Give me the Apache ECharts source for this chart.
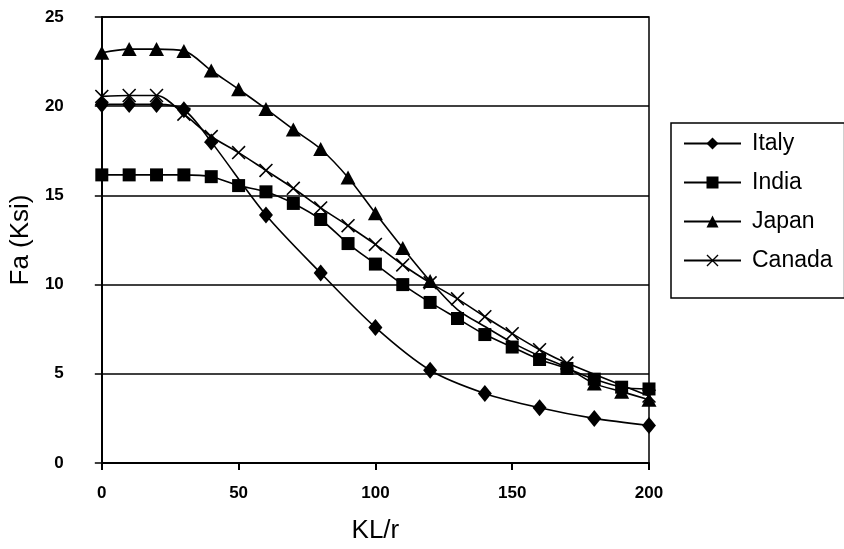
<!DOCTYPE html>
<html>
<head>
<meta charset="utf-8">
<script src="https://cdn.jsdelivr.net/npm/echarts@6/dist/echarts.min.js"></script>
<style>html,body{margin:0;padding:0;background:#fff}#c{width:844px;height:549px}</style>
</head>
<body>
<div id="c"></div>
<script>
var seriesNames = ['Italy', 'India', 'Japan', 'Canada'];
var xTicks = [0, 50, 100, 150, 200];
var yTicks = [0, 5, 10, 15, 20, 25];

var italyX = [0, 10, 20, 30, 40, 60, 80, 100, 120, 140, 160, 180, 200];
var italyY = [20.1, 20.1, 20.1, 19.8, 18.0, 13.9, 10.65, 7.6, 5.2, 3.9, 3.1, 2.5, 2.1];

var indiaX = [0, 10, 20, 30, 40, 50, 60, 70, 80, 90, 100, 110, 120, 130, 140, 150, 160, 170, 180, 190, 200];
var indiaY = [16.15, 16.15, 16.15, 16.15, 16.05, 15.55, 15.2, 14.55, 13.65, 12.3, 11.15, 10.0, 9.0, 8.1, 7.2, 6.5, 5.8, 5.3, 4.7, 4.25, 4.15];

var japanX = [0, 10, 20, 30, 40, 50, 60, 70, 80, 90, 100, 110, 120, 130, 140, 150, 160, 170, 180, 190, 200];
var japanY = [23.0, 23.2, 23.2, 23.1, 22.0, 20.95, 19.85, 18.7, 17.6, 16.0, 14.0, 12.05, 10.2, 8.6, 7.65, 6.75, 6.0, 5.35, 4.45, 4.0, 3.55];
// points whose triangle marker is not visible in the picture (hidden under other marks)
var japanHiddenX = [130, 140, 150, 160, 170];

var canadaX = [0, 10, 20, 30, 40, 50, 60, 70, 80, 90, 100, 110, 120, 130, 140, 150, 160, 170, 200];
var canadaY = [20.55, 20.6, 20.6, 19.55, 18.3, 17.4, 16.4, 15.4, 14.3, 13.3, 12.25, 11.1, 10.1, 9.2, 8.2, 7.25, 6.35, 5.6, 3.75];

function pairs(xs, ys, hidden) {
  return xs.map(function (x, i) {
    if (hidden && hidden.indexOf(x) >= 0) return {value: [x, ys[i]], symbol: 'none'};
    return [x, ys[i]];
  });
}

var NARROW = '"Liberation Sans Narrow", "Arial Narrow", "Liberation Sans", Arial, sans-serif';
var SANS = '"Liberation Sans", Arial, sans-serif';
var xMark = 'path://M0,1.6 L1.6,0 L10,8.4 L18.4,0 L20,1.6 L11.6,10 L20,18.4 L18.4,20 L10,11.6 L1.6,20 L0,18.4 L8.4,10 Z';

var symbols = ['diamond', 'rect', 'triangle', xMark];
var sizes = [[14, 17], 13, [15, 14], 14];
var datas = [pairs(italyX, italyY), pairs(indiaX, indiaY), pairs(japanX, japanY, japanHiddenX), pairs(canadaX, canadaY)];

var chart = echarts.init(document.getElementById('c'), null, {renderer: 'canvas'});
chart.setOption({
  animation: false,
  backgroundColor: '#fff',
  grid: {left: 100, right: 195, top: 17, bottom: 86, show: true, borderColor: '#000', borderWidth: 1.5},
  legend: {
    orient: 'vertical', left: 671, top: 123,
    padding: [9, 12, 26, 12], itemGap: 16, itemWidth: 57, itemHeight: 15,
    borderColor: '#000', borderWidth: 1.5, backgroundColor: '#fff',
    textStyle: {fontSize: 23, fontFamily: SANS, color: '#000', padding: [0, 0, 0, 6]},
    data: seriesNames
  },
  xAxis: {
    type: 'value', min: xTicks[0], max: xTicks[xTicks.length - 1], interval: 50,
    name: 'KL/r', nameLocation: 'middle', nameGap: 55,
    nameTextStyle: {fontSize: 26, fontFamily: NARROW, color: '#000'},
    axisLine: {show: true, onZero: false, lineStyle: {color: '#000', width: 2}},
    axisTick: {show: true, length: 7, lineStyle: {color: '#000', width: 2}},
    axisLabel: {margin: 22, fontSize: 17, fontWeight: 'bold', fontFamily: NARROW, color: '#000'},
    splitLine: {show: false}
  },
  yAxis: {
    type: 'value', min: yTicks[0], max: yTicks[yTicks.length - 1], interval: 5,
    name: 'Fa (Ksi)', nameLocation: 'middle', nameGap: 48, nameRotate: 90,
    nameTextStyle: {fontSize: 26, fontFamily: SANS, color: '#000'},
    axisLine: {show: true, lineStyle: {color: '#000', width: 2}},
    axisTick: {show: true, length: 7, lineStyle: {color: '#000', width: 1.5}},
    axisLabel: {margin: 38, fontSize: 17, fontWeight: 'bold', fontFamily: NARROW, color: '#000'},
    splitLine: {show: true, lineStyle: {color: '#000', width: 1.5}}
  },
  series: seriesNames.map(function (n, i) {
    return {
      name: n, type: 'line', data: datas[i], smooth: 0.3,
      symbol: symbols[i], symbolSize: sizes[i], showAllSymbol: true,
      lineStyle: {color: '#000', width: 1.6},
      itemStyle: {color: '#000', borderWidth: 0},
      emphasis: {disabled: true}, z: 2 + i
    };
  })
});
</script>
</body>
</html>
